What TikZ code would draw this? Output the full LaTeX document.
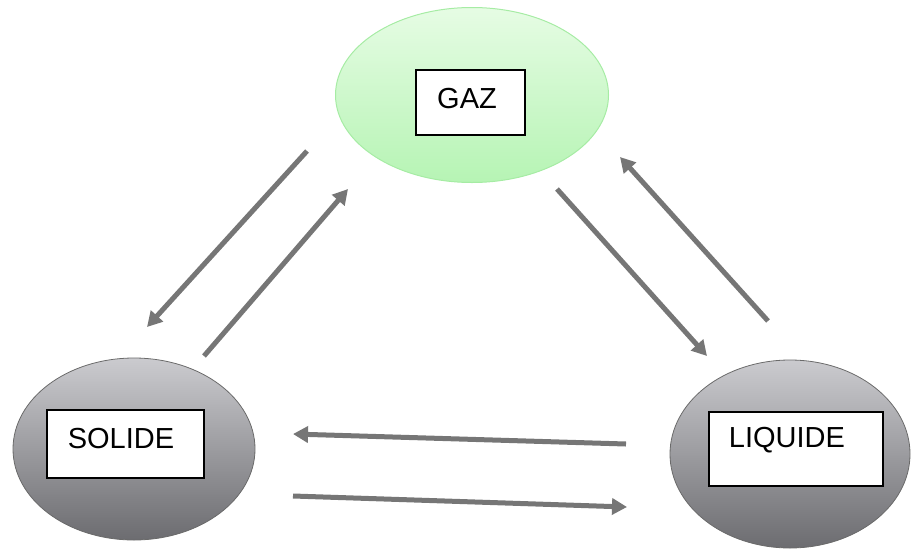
\documentclass[tikz,border=0pt]{standalone}
\usepackage{fontspec}
\setmainfont{Liberation Sans}
\usepackage{tikz}
\usepackage{xcolor}
\usetikzlibrary{shapes.geometric,arrows.meta}

\definecolor{gazlight}{HTML}{E6FCE4}
\definecolor{gazdark}{HTML}{B6F4B4}
\definecolor{gazline}{HTML}{A6ECA4}
\definecolor{phaselight}{HTML}{CBCBCF}
\definecolor{phasedark}{HTML}{6C6C70}
\definecolor{phaseline}{HTML}{6A6A6A}
\definecolor{arrowgray}{HTML}{767676}

\tikzset{
  phase/.style={ellipse, inner sep=0pt, draw=phaseline, line width=0.8pt,
    top color=phaselight, bottom color=phasedark},
  gazphase/.style={ellipse, inner sep=0pt, draw=gazline, line width=1pt,
    top color=gazlight, bottom color=gazdark},
  namebox/.style={draw=black, line width=1.3pt, fill=white, inner sep=0pt},
  nametext/.style={font=\fontsize{29}{34}\selectfont, inner sep=0pt},
  change/.style={draw=arrowgray, line width=5pt,
    -{Triangle[width=16pt,length=15pt]}, arrowgray}
}

\begin{document}
\begin{tikzpicture}[x=1pt,y=-1pt]
  \useasboundingbox (0,0) rectangle (917,549);

  % the three states
  \node[gazphase, minimum width=273pt, minimum height=175pt] (gaz) at (472,95) {};
  \node[phase, minimum width=242pt, minimum height=182pt] (solide) at (134,449) {};
  \node[phase, minimum width=240pt, minimum height=188pt] (liquide) at (790,454) {};

  \node[namebox, minimum width=109pt, minimum height=65pt] (gazbox) at (470.5,102.5) {};
  \node[namebox, minimum width=157pt, minimum height=68pt] (solidebox) at (125.5,444) {};
  \node[namebox, minimum width=174pt, minimum height=74pt] (liquidebox) at (796,449) {};

  \node[nametext] (gaztext) at (467,98.5) {GAZ};
  \node[nametext] (solidetext) at (121,438.5) {SOLIDE};
  \node[nametext] (liquidetext) at (787,440.5) {LIQUIDE};

  % ends of the changes of state
  \foreach \n / \x / \y in {a/307/151, b/147/327, c/204/356, d/348/189,
      e/557/189, f/707/356, g/768/321, h/620/157,
      i/626/444, j/293/434, k/293/496, l/627/507}
    \coordinate (\n) at (\x,\y);

  \foreach \s / \t in {a/b, c/d, e/f, g/h, i/j, k/l}
    \draw[change] (\s) -- (\t);
\end{tikzpicture}
\end{document}
